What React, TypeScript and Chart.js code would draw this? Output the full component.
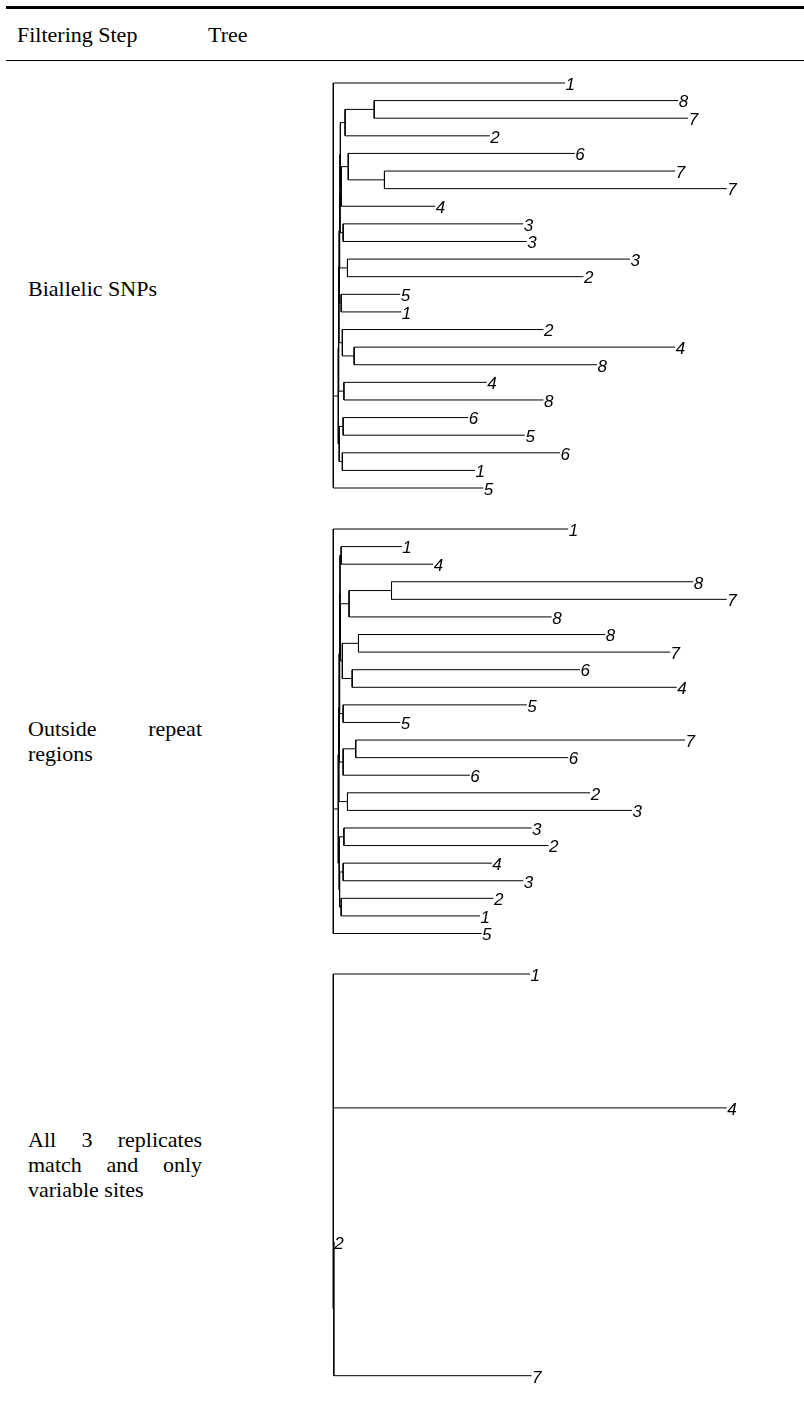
import React, { useEffect, useRef } from "react";
import { Chart, registerables } from "chart.js";

Chart.register(...registerables);

// ---------- table text ----------
const headerLabels = ["Filtering Step", "Tree"];
const step1Lines = ["Biallelic SNPs"];
const step2Lines = ["Outside repeat", "regions"];
const step3Lines = ["All 3 replicates", "match and only", "variable sites"];

// ---------- tree 1 : Biallelic SNPs ----------
const tree1TipLabels = ["1", "8", "7", "2", "6", "7", "7", "4", "3", "3", "3", "2", "5", "1", "2", "4", "8", "4", "8", "6", "5", "6", "1", "5"];
const tree1TipDepths = [0.589, 0.877, 0.902, 0.398, 0.614, 0.869, 1.0, 0.259, 0.483, 0.492, 0.754, 0.636, 0.17, 0.173, 0.534, 0.869, 0.67, 0.39, 0.534, 0.343, 0.487, 0.576, 0.36, 0.381];
const tree1NodeChildren = [
  ["t1", "t2"], ["n0", "t3"], ["t5", "t6"], ["t4", "n2"], ["n3", "t7"], ["n1", "n4"],
  ["t8", "t9"], ["n5", "n6"], ["t10", "t11"], ["n7", "n8"], ["t12", "t13"], ["n9", "n10"],
  ["t15", "t16"], ["t14", "n12"], ["n11", "n13"], ["t17", "t18"], ["n14", "n15"],
  ["t19", "t20"], ["t21", "t22"], ["n17", "n18"], ["n16", "n19"], ["t0", "n20", "t23"],
];
const tree1NodeDepths = [0.104, 0.03, 0.13, 0.038, 0.02, 0.018, 0.025, 0.017, 0.036, 0.016, 0.02, 0.015, 0.053, 0.023, 0.014, 0.027, 0.0135, 0.025, 0.023, 0.015, 0.0127, 0];

// ---------- tree 2 : Outside repeat regions ----------
const tree2TipLabels = ["1", "1", "4", "8", "7", "8", "8", "7", "6", "4", "5", "5", "7", "6", "6", "2", "3", "3", "2", "4", "3", "2", "1", "5"];
const tree2TipDepths = [0.597, 0.174, 0.254, 0.915, 1.0, 0.555, 0.691, 0.856, 0.627, 0.873, 0.492, 0.17, 0.894, 0.597, 0.347, 0.653, 0.759, 0.504, 0.547, 0.403, 0.483, 0.407, 0.373, 0.377];
const tree2NodeChildren = [
  ["t1", "t2"], ["t3", "t4"], ["n1", "t5"], ["t6", "t7"], ["t8", "t9"], ["n3", "n4"],
  ["n2", "n5"], ["n0", "n6"], ["t10", "t11"], ["n7", "n8"], ["t12", "t13"], ["n10", "t14"],
  ["n9", "n11"], ["t15", "t16"], ["n12", "n13"], ["t17", "t18"], ["t19", "t20"], ["t21", "t22"],
  ["n16", "n17"], ["n15", "n18"], ["n14", "n19"], ["t0", "n20", "t23"],
];
const tree2NodeDepths = [0.02, 0.148, 0.04, 0.064, 0.048, 0.023, 0.018, 0.017, 0.025, 0.016, 0.057, 0.025, 0.015, 0.036, 0.014, 0.027, 0.025, 0.02, 0.016, 0.015, 0.0127, 0];

// ---------- tree 3 : All replicates match, variable sites ----------
const tree3TipLabels = ["1", "4", "2", "7"];
const tree3TipDepths = [0.5, 1.0, 0.0013, 0.504];
const tree3NodeChildren = [["t2", "t3"], ["t0", "t1", "n0"]];
const tree3NodeDepths = [0.0013, 0];

const CANVAS_LEFT = 320;
const CANVAS_WIDTH = 484;
const TREE_LEFT = 333.3;
const TREE_RIGHT = 726.7;
const SERIF = '"Liberation Serif", "DejaVu Serif", "Noto Serif", "Times New Roman", Times, serif';

type TreeProps = {
  tips: string[];
  depths: number[];
  nodeChildren: string[][];
  nodeDepths: number[];
  firstY: number;
  lastY: number;
};

function TreeChart({ tips, depths, nodeChildren, nodeDepths, firstY, lastY }: TreeProps) {
  const ref = useRef<HTMLCanvasElement>(null);
  const pad = 16;
  const canvasTop = firstY - pad;
  const canvasHeight = Math.round(lastY - firstY + 2 * pad);

  useEffect(() => {
    if (!ref.current) return;
    const n = tips.length;
    const depthOf = (id: string) =>
      id[0] === "t" ? depths[+id.slice(1)] : nodeDepths[+id.slice(1)];
    const cache: Record<number, number> = {};
    const yOf = (id: string): number => {
      const k = +id.slice(1);
      if (id[0] === "t") return k;
      if (cache[k] !== undefined) return cache[k];
      const ch = nodeChildren[k];
      const v = (yOf(ch[0]) + yOf(ch[ch.length - 1])) / 2;
      cache[k] = v;
      return v;
    };
    const seg = (x1: number, y1: number, x2: number, y2: number) => ({
      data: [{ x: x1, y: y1 }, { x: x2, y: y2 }],
      showLine: true,
      borderColor: "#000",
      backgroundColor: "#000",
      borderWidth: 1,
      pointRadius: 0,
      pointHoverRadius: 0,
      fill: false,
      tension: 0,
      clip: false as any,
    });
    const datasets: any[] = [];
    nodeChildren.forEach((ch, k) => {
      const x = nodeDepths[k];
      const ys = ch.map(yOf);
      datasets.push(seg(x, Math.min(...ys), x, Math.max(...ys)));
      ch.forEach((c) => {
        const xd = depthOf(c);
        if (xd > x) datasets.push(seg(x, yOf(c), xd, yOf(c)));
      });
    });

    const labelPlugin = {
      id: "tipLabels",
      afterDatasetsDraw(chart: any) {
        const ctx = chart.ctx;
        const xs = chart.scales.x;
        const ysc = chart.scales.y;
        ctx.save();
        ctx.font = 'italic 17px "Liberation Sans", Arial, sans-serif';
        ctx.fillStyle = "#000";
        ctx.textAlign = "left";
        ctx.textBaseline = "alphabetic";
        tips.forEach((lab, i) => {
          ctx.fillText(lab, xs.getPixelForValue(depths[i]) + 0.5, ysc.getPixelForValue(i) + 6.8);
        });
        ctx.restore();
      },
    };

    const chart = new Chart(ref.current, {
      type: "scatter",
      data: { datasets },
      options: {
        animation: false,
        responsive: false,
        maintainAspectRatio: false,
        devicePixelRatio: 1,
        events: [],
        layout: {
          padding: {
            left: TREE_LEFT - CANVAS_LEFT,
            right: CANVAS_LEFT + CANVAS_WIDTH - TREE_RIGHT,
            top: pad,
            bottom: canvasHeight - pad - (lastY - firstY),
          },
        },
        plugins: {
          legend: { display: false },
          tooltip: { enabled: false },
          title: { display: false },
        },
        scales: {
          x: { type: "linear", min: 0, max: 1, display: false },
          y: { type: "linear", min: 0, max: n - 1, reverse: true, display: false },
        },
      },
      plugins: [labelPlugin],
    } as any);
    return () => chart.destroy();
  }, []);

  return (
    <canvas
      ref={ref}
      width={CANVAS_WIDTH}
      height={canvasHeight}
      style={{
        position: "absolute",
        left: CANVAS_LEFT,
        top: canvasTop,
        width: CANVAS_WIDTH,
        height: canvasHeight,
      }}
    />
  );
}

function StepText({ lines, top }: { lines: string[]; top: number }) {
  return (
    <div style={{ position: "absolute", left: 28, top, width: 174 }}>
      {lines.map((l, i) => {
        const last = i === lines.length - 1;
        return (
          <div
            key={i}
            style={{
              textAlign: last ? "left" : "justify",
              textAlignLast: last ? "left" : "justify",
              whiteSpace: "nowrap",
            } as any}
          >
            {l}
          </div>
        );
      })}
    </div>
  );
}

export default function App() {
  return (
    <div
      style={{
        position: "absolute",
        left: 0,
        top: 0,
        width: 804,
        height: 1406,
        overflow: "hidden",
        background: "#fff",
        color: "#000",
        fontFamily: SERIF,
        fontSize: 22,
        lineHeight: "25px",
      }}
    >
      <div style={{ position: "absolute", left: 6, top: 6, width: 798, height: 2.5, background: "#000" }} />
      <div style={{ position: "absolute", left: 17, top: 21.5, whiteSpace: "nowrap" }}>{headerLabels[0]}</div>
      <div style={{ position: "absolute", left: 208, top: 21.5, whiteSpace: "nowrap" }}>{headerLabels[1]}</div>
      <div style={{ position: "absolute", left: 6, top: 59.5, width: 798, height: 1.6, background: "#000" }} />

      <StepText lines={step1Lines} top={275.5} />
      <StepText lines={step2Lines} top={715.5} />
      <StepText lines={step3Lines} top={1126.5} />

      <TreeChart tips={tree1TipLabels} depths={tree1TipDepths} nodeChildren={tree1NodeChildren} nodeDepths={tree1NodeDepths} firstY={83} lastY={488} />
      <TreeChart tips={tree2TipLabels} depths={tree2TipDepths} nodeChildren={tree2NodeChildren} nodeDepths={tree2NodeDepths} firstY={528.5} lastY={933} />
      <TreeChart tips={tree3TipLabels} depths={tree3TipDepths} nodeChildren={tree3NodeChildren} nodeDepths={tree3NodeDepths} firstY={974.3} lastY={1376} />
    </div>
  );
}
